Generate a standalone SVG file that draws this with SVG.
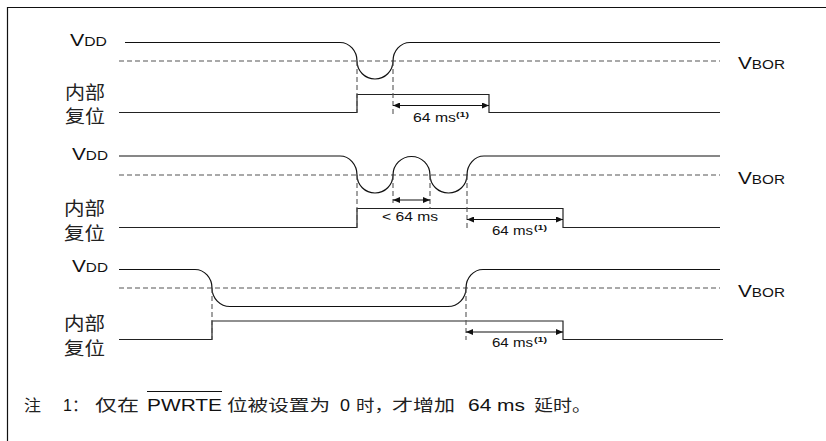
<svg xmlns="http://www.w3.org/2000/svg" width="826" height="441" viewBox="0 0 826 441">
<style>
.sig{fill:none;stroke:#111;stroke-width:1.2}
.rst{fill:none;stroke:#222;stroke-width:1.2}
.dash{fill:none;stroke:#555;stroke-width:1.1;stroke-dasharray:5,3}
.arr{fill:none;stroke:#111;stroke-width:1.1;marker-start:url(#ah);marker-end:url(#ah)}
.lat{font-family:"Liberation Sans",Arial,sans-serif;fill:#111}
.cjk{font-family:"Noto Sans CJK SC","Noto Sans",sans-serif;fill:#222}
.lbl{font-size:12.5px}
.sup{font-size:8px;font-weight:bold}
.v{font-size:17px}
.sub{font-size:12.5px}
</style>
<defs>
<marker id="ah" viewBox="0 0 7 6" refX="7" refY="3" markerWidth="7" markerHeight="6" markerUnits="userSpaceOnUse" orient="auto-start-reverse">
<path d="M0,0 L7,3 L0,6 z" fill="#111"/>
</marker>
</defs>
<rect width="826" height="441" fill="#fff"/>
<path d="M7.5,441 V7.5 H826" fill="none" stroke="#111" stroke-width="1.2"/>

<g id="panel1">
<text class="lat v" x="70" y="46" textLength="37" lengthAdjust="spacingAndGlyphs">V<tspan class="sub">DD</tspan></text>
<text class="lat v" x="738" y="69" textLength="47" lengthAdjust="spacingAndGlyphs">V<tspan class="sub">BOR</tspan></text>
<text class="cjk" x="65" y="99" font-size="18" textLength="40" lengthAdjust="spacingAndGlyphs">内部</text>
<text class="cjk" x="65" y="123" font-size="18" textLength="40" lengthAdjust="spacingAndGlyphs">复位</text>
<path class="dash" d="M119,61 H720"/>
<path class="sig" d="M125,42.5 H340 A17,18.5 0 0 1 357,61 A18,18 0 0 0 393,61 A17,18.5 0 0 1 410,42.5 H720"/>
<path class="rst" d="M119,112.5 H357 V94.5 H489 V112.5 H720"/>
<path class="dash" d="M357,61 V112.5 M393,61 V115"/>
<path class="arr" d="M393,105.5 H489"/>
<text class="lat lbl" x="413" y="122" textLength="43" lengthAdjust="spacingAndGlyphs">64 ms</text>
<text class="lat sup" x="456" y="117" textLength="13" lengthAdjust="spacingAndGlyphs">(1)</text>
</g>

<g id="panel2">
<text class="lat v" x="72" y="160" textLength="36" lengthAdjust="spacingAndGlyphs">V<tspan class="sub">DD</tspan></text>
<text class="lat v" x="738" y="184" textLength="47" lengthAdjust="spacingAndGlyphs">V<tspan class="sub">BOR</tspan></text>
<text class="cjk" x="64" y="215" font-size="18" textLength="41" lengthAdjust="spacingAndGlyphs">内部</text>
<text class="cjk" x="64" y="240" font-size="18" textLength="41" lengthAdjust="spacingAndGlyphs">复位</text>
<path class="dash" d="M119,175 H720"/>
<path class="sig" d="M119,156 H340 A17,19 0 0 1 357,175 A18,18 0 0 0 393,175 A18.5,18.5 0 0 1 430,175 A18.5,18 0 0 0 467,175 A17,19 0 0 1 484,156 H720"/>
<path class="rst" d="M119,227.5 H357 V208.5 H563 V227.5 H720"/>
<path class="dash" d="M357,175 V227.5 M393,175 V203 M430,175 V208.5 M467,175 V228"/>
<path class="arr" d="M393,200 H430"/>
<path class="arr" d="M467,219.5 H563"/>
<text class="lat lbl" x="382" y="221" textLength="56" lengthAdjust="spacingAndGlyphs">&lt; 64 ms</text>
<text class="lat lbl" x="492" y="235" textLength="41" lengthAdjust="spacingAndGlyphs">64 ms</text>
<text class="lat sup" x="534" y="230" textLength="13" lengthAdjust="spacingAndGlyphs">(1)</text>
</g>

<g id="panel3">
<text class="lat v" x="72" y="272" textLength="36" lengthAdjust="spacingAndGlyphs">V<tspan class="sub">DD</tspan></text>
<text class="lat v" x="738" y="297" textLength="47" lengthAdjust="spacingAndGlyphs">V<tspan class="sub">BOR</tspan></text>
<text class="cjk" x="64" y="330" font-size="18" textLength="41" lengthAdjust="spacingAndGlyphs">内部</text>
<text class="cjk" x="64" y="355" font-size="18" textLength="41" lengthAdjust="spacingAndGlyphs">复位</text>
<path class="dash" d="M119,288 H720"/>
<path class="sig" d="M119,269.5 H195 A17,18.5 0 0 1 212,288 A18,18.5 0 0 0 230,306.5 H448 A18,18.5 0 0 0 466,288 A17,18.5 0 0 1 483,269.5 H720"/>
<path class="rst" d="M119,339.5 H212 V321 H563 V339.5 H723"/>
<path class="dash" d="M212,288 V339.5 M466,288 V340"/>
<path class="arr" d="M466,332 H563"/>
<text class="lat lbl" x="492" y="347" textLength="41" lengthAdjust="spacingAndGlyphs">64 ms</text>
<text class="lat sup" x="534" y="342" textLength="13" lengthAdjust="spacingAndGlyphs">(1)</text>
</g>

<g id="note">
<text class="cjk" x="24" y="411" font-size="16" textLength="17" lengthAdjust="spacingAndGlyphs">注</text>
<text class="lat" x="63" y="411" font-size="16">1</text>
<text class="cjk" x="72" y="411" font-size="16">：</text>
<text class="cjk" x="95" y="411" font-size="16" textLength="44" lengthAdjust="spacingAndGlyphs">仅在</text>
<text class="lat" x="147" y="411" font-size="16" textLength="75" lengthAdjust="spacingAndGlyphs">PWRTE</text>
<line x1="147" y1="391.5" x2="222" y2="391.5" stroke="#111" stroke-width="1.2"/>
<text class="cjk" x="227" y="411" font-size="16" textLength="103" lengthAdjust="spacingAndGlyphs">位被设置为</text>
<text class="lat" x="340" y="411" font-size="16" textLength="10" lengthAdjust="spacingAndGlyphs">0</text>
<text class="cjk" x="356" y="411" font-size="16" textLength="37" lengthAdjust="spacingAndGlyphs">时，</text>
<text class="cjk" x="392" y="411" font-size="16" textLength="63" lengthAdjust="spacingAndGlyphs">才增加</text>
<text class="lat" x="468" y="411" font-size="16" textLength="57" lengthAdjust="spacingAndGlyphs">64 ms</text>
<text class="cjk" x="534" y="411" font-size="16" textLength="57" lengthAdjust="spacingAndGlyphs">延时。</text>
</g>
</svg>
